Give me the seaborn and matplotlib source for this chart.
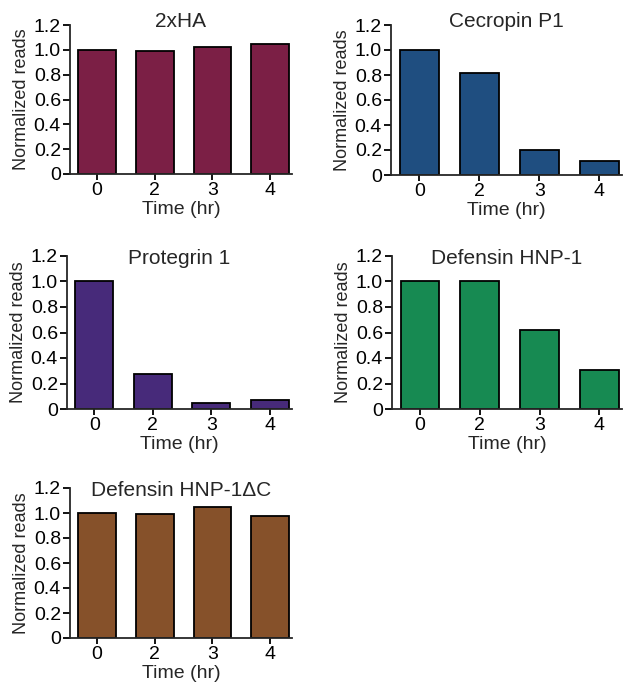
import matplotlib
matplotlib.use("Agg")
import matplotlib.pyplot as plt
import seaborn as sns
import pandas as pd

# time points (hr)
times = ["0", "2", "3", "4"]

# normalized reads per peptide
vals_2xha = [1.00, 0.99, 1.02, 1.05]
vals_cecropin = [1.00, 0.82, 0.20, 0.115]
vals_protegrin = [1.00, 0.274, 0.05, 0.068]
vals_defensin = [1.00, 1.00, 0.617, 0.307]
vals_defensin_dc = [1.00, 0.995, 1.048, 0.979]

titles = ["2xHA", "Cecropin P1", "Protegrin 1", "Defensin HNP-1", "Defensin HNP-1\u0394C"]
colors = ["#7B1F45", "#1F4E80", "#472A7A", "#178A52", "#86512A"]
series = [vals_2xha, vals_cecropin, vals_protegrin, vals_defensin, vals_defensin_dc]

sns.set_style("ticks")
plt.rcParams["font.family"] = ["Liberation Sans", "DejaVu Sans"]

W, H = 629, 695
fig = plt.figure(figsize=(W / 100, H / 100), dpi=100)

# axes boxes in pixels: (left, top, right, bottom)
boxes = [(70, 25, 292, 174), (391, 25, 622, 175),
         (67, 256, 292, 409), (392, 256, 622, 409),
         (70, 488, 292, 638)]
title_y = [0.987, 0.987, 0.945, 0.945, 0.947]

for vals, title, col, box, ty in zip(series, titles, colors, boxes, title_y):
    l, t, r, b = box
    ax = fig.add_axes([l / W, 1 - b / H, (r - l) / W, (b - t) / H])
    df = pd.DataFrame({"time": times, "reads": vals})
    sns.barplot(data=df, x="time", y="reads", color=col, edgecolor="black",
                linewidth=1.3, width=0.65, saturation=1, ax=ax)
    ax.set_ylim(0, 1.2)
    ax.set_xlim(-0.47, 3.38)
    ax.set_yticks([0, 0.2, 0.4, 0.6, 0.8, 1.0, 1.2])
    ax.set_yticklabels(["0", "0.2", "0.4", "0.6", "0.8", "1.0", "1.2"])
    ax.tick_params(labelsize=14, width=1.3, length=5, pad=1.5, colors="black")
    ax.tick_params(axis="x", length=4)
    for s in ["left", "bottom"]:
        ax.spines[s].set_linewidth(1.3)
    sns.despine(ax=ax)
    ax.set_ylabel("Normalized reads", fontsize=13, labelpad=3)
    ax.set_xlabel("Time (hr)", fontsize=14, labelpad=1.5)
    ax.set_title(title, fontsize=15, y=ty, pad=0)

fig.savefig("out.png", dpi=100)
